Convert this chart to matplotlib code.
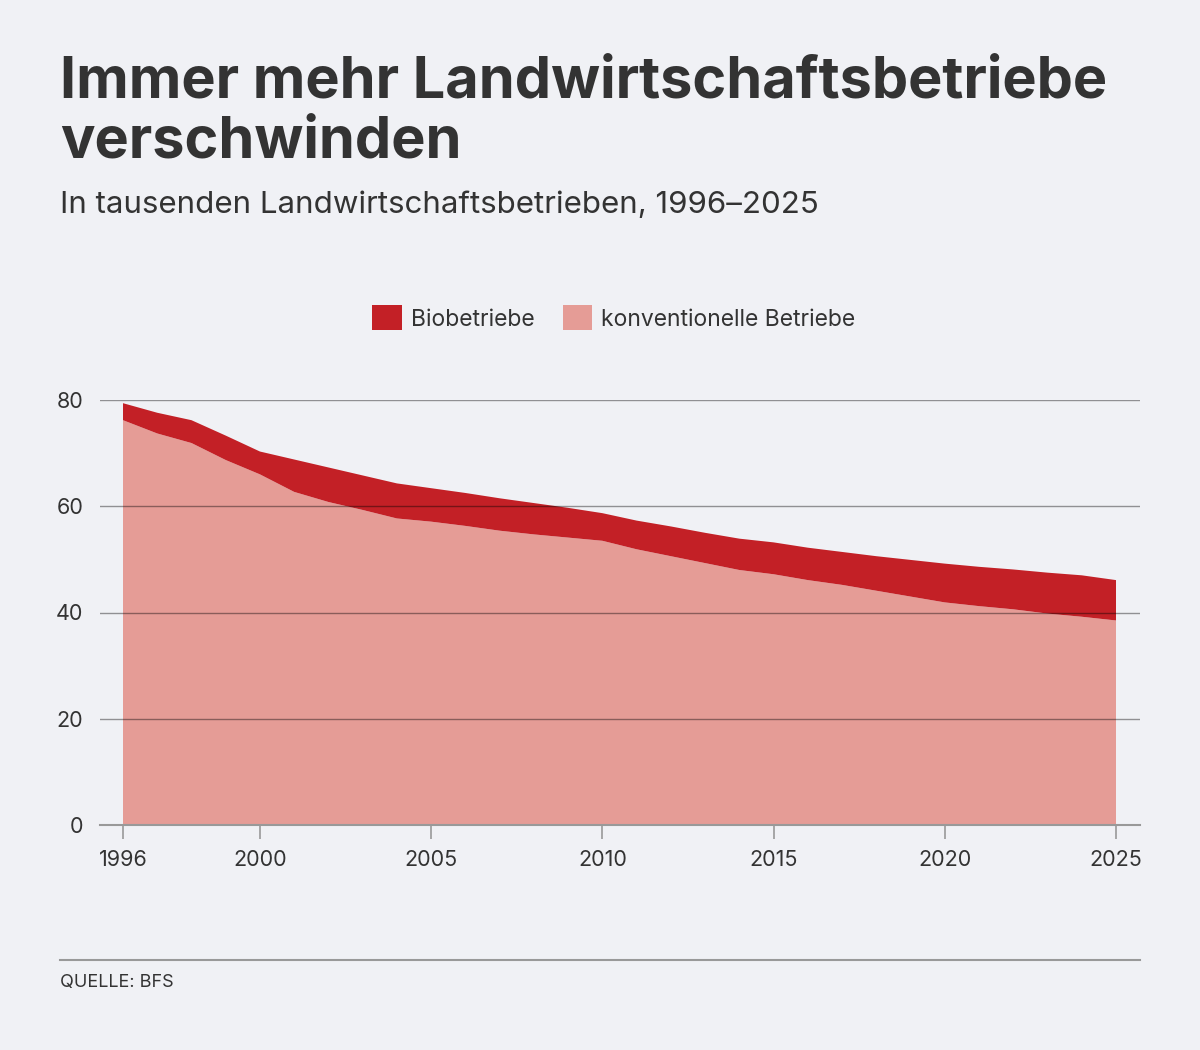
import matplotlib.pyplot as plt
import numpy as np
from matplotlib.patches import Patch

# Daten (in Tausend Betrieben)
jahre = list(range(1996, 2026))
konventionell = [76.2, 73.7, 71.9, 68.7, 66.0, 62.7, 60.8, 59.3, 57.7, 57.1,
                 56.3, 55.4, 54.7, 54.1, 53.5, 51.9, 50.6, 49.3, 48.0, 47.2,
                 46.1, 45.2, 44.1, 43.0, 41.9, 41.2, 40.6, 39.8, 39.2, 38.5]
bio = [3.2, 3.9, 4.3, 4.6, 4.3, 6.1, 6.5, 6.5, 6.6, 6.3,
       6.2, 6.1, 5.9, 5.6, 5.2, 5.4, 5.6, 5.7, 5.9, 6.0,
       6.1, 6.2, 6.5, 6.9, 7.3, 7.4, 7.5, 7.7, 7.8, 7.6]
x_ticks = [1996, 2000, 2005, 2010, 2015, 2020, 2025]
y_ticks = [0, 20, 40, 60, 80]

BG = '#F0F1F5'
TXT = '#333333'
ROT = '#C32026'
ROSA = '#E59C96'

plt.rcParams['font.family'] = ['Inter', 'DejaVu Sans']

fig = plt.figure(figsize=(12, 10.5), dpi=100, facecolor=BG)
ax = fig.add_axes([100 / 1200, 1 - 825 / 1050, 1040 / 1200, 425 / 1050])
ax.set_facecolor(BG)

ax.stackplot(jahre, konventionell, bio, colors=[ROSA, ROT], linewidth=0)

ax.set_xlim(1996 - 23 / 34.24, 2025 + 24 / 34.24)
ax.set_ylim(0, 80)
ax.set_xticks(x_ticks)
ax.set_yticks(y_ticks)
ax.tick_params(axis='x', length=10, width=1.2, color='#999999', labelcolor=TXT,
               labelsize=15.5, pad=8)
ax.tick_params(axis='y', length=0, labelsize=15.5, labelcolor=TXT, pad=12)

for s in ['top', 'right', 'left']:
    ax.spines[s].set_visible(False)
ax.spines['bottom'].set_color('#999999')
ax.spines['bottom'].set_linewidth(1.5)

# Gitterlinien über der Fläche
for y in y_ticks[1:]:
    ax.axhline(y, color='black', alpha=0.4, linewidth=1, zorder=5)

# Titel
fig.text(60 / 1200, 1 - 82 / 1050, 'Immer mehr Landwirtschaftsbetriebe',
         fontsize=41.5, fontweight='bold', color=TXT, va='center', ha='left')
fig.text(60 / 1200, 1 - 142 / 1050, 'verschwinden',
         fontsize=41.5, fontweight='bold', color=TXT, va='center', ha='left')
fig.text(60 / 1200, 1 - 205 / 1050, 'In tausenden Landwirtschaftsbetrieben, 1996–2025',
         fontsize=22.5, color=TXT, va='center', ha='left')

# Legende
handles = [Patch(facecolor=ROT, label='Biobetriebe'),
           Patch(facecolor=ROSA, label='konventionelle Betriebe')]
fig.legend(handles=handles, loc='center', bbox_to_anchor=(614 / 1200, 1 - 318 / 1050),
           ncol=2, frameon=False, fontsize=16.5, handlelength=1.3, handleheight=1.3,
           handletextpad=0.4, columnspacing=1.2, labelcolor=TXT)

# Fusszeile
fig.add_artist(plt.Line2D([60 / 1200, 1140 / 1200], [1 - 960 / 1050, 1 - 960 / 1050],
                          color='#999999', linewidth=1.5))
fig.text(60 / 1200, 1 - 983 / 1050, 'QUELLE: BFS', fontsize=13, color=TXT,
         va='center', ha='left')

fig.savefig('out.png', dpi=100, facecolor=BG)
